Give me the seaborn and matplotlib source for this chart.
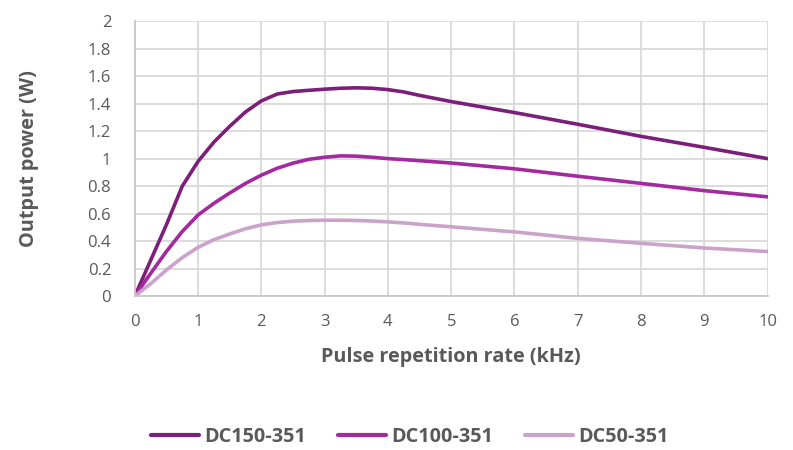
import pandas as pd
import seaborn as sns
import matplotlib.pyplot as plt
from matplotlib.ticker import FuncFormatter

# 데이터
rate_khz = [0, 0.25, 0.5, 0.75, 1, 1.25, 1.5, 1.75, 2, 2.25, 2.5, 2.75, 3, 3.25,
            3.5, 3.75, 4, 4.25, 4.5, 5, 6, 7, 8, 9, 10]
dc150 = [0, 0.26, 0.52, 0.80, 0.98, 1.12, 1.235, 1.34, 1.42, 1.47, 1.488, 1.497, 1.505, 1.512,
         1.515, 1.512, 1.502, 1.485, 1.46, 1.415, 1.335, 1.25, 1.162, 1.082, 1.0]
dc100 = [0, 0.165, 0.325, 0.47, 0.59, 0.675, 0.75, 0.82, 0.88, 0.93, 0.967, 0.995, 1.01, 1.02,
         1.018, 1.01, 1.0, 0.993, 0.985, 0.968, 0.926, 0.872, 0.82, 0.767, 0.722]
dc50 = [0, 0.09, 0.19, 0.28, 0.355, 0.41, 0.452, 0.49, 0.518, 0.535, 0.545, 0.55, 0.552, 0.552,
        0.55, 0.546, 0.54, 0.532, 0.522, 0.504, 0.467, 0.42, 0.384, 0.35, 0.324]
series = ['DC150-351', 'DC100-351', 'DC50-351']
colors = ['#7b1f7b', '#a3299f', '#cba2ca']

df = pd.DataFrame({
    'rate': rate_khz * 3,
    'power': dc150 + dc100 + dc50,
    'series': [s for s in series for _ in rate_khz],
})

sns.set_style('white')
plt.rcParams['font.family'] = ['Open Sans', 'DejaVu Sans']

fig = plt.figure(figsize=(7.93, 4.5), dpi=100)
ax = fig.add_axes([0.170, 0.342, 0.798, 0.611])

sns.lineplot(data=df, x='rate', y='power', hue='series', palette=colors,
             hue_order=series, sort=False, linewidth=2.6, ax=ax, legend=False)

ax.set_xlim(0, 10)
ax.set_ylim(0, 2)
ax.set_xticks(range(0, 11))
ax.set_yticks([i * 0.2 for i in range(11)])
ax.yaxis.set_major_formatter(FuncFormatter(lambda v, p: f'{v:g}'))
ax.grid(True, color='#d9d9d9', linewidth=1.3)
ax.set_axisbelow(True)
for s in ['top', 'right']:
    ax.spines[s].set_visible(False)
for s in ['left', 'bottom']:
    ax.spines[s].set_color('#c8c8c8')
    ax.spines[s].set_linewidth(1.3)
ax.tick_params(axis='x', labelsize=12, colors='#595959', length=0, pad=13)
ax.tick_params(axis='y', labelsize=12, colors='#595959', length=0, pad=17)

ax.set_xlabel('Pulse repetition rate (kHz)', fontsize=14.3, fontweight='bold',
              color='#595959', labelpad=12)
ax.set_ylabel('Output power (W)', fontsize=14.3, fontweight='bold',
              color='#595959')
ax.yaxis.set_label_coords(-0.152, 0.5)

handles = [plt.Line2D([], [], color=c, linewidth=3) for c in colors]
leg = fig.legend(handles, series, loc='center', bbox_to_anchor=(0.517, 0.03),
                 ncol=3, frameon=False, handlelength=2.4, columnspacing=1.6,
                 handletextpad=0.28, borderpad=0.1,
                 prop={'size': 14.3, 'weight': 'bold'})
for t in leg.get_texts():
    t.set_color('#595959')

fig.savefig('out.png', dpi=100)
